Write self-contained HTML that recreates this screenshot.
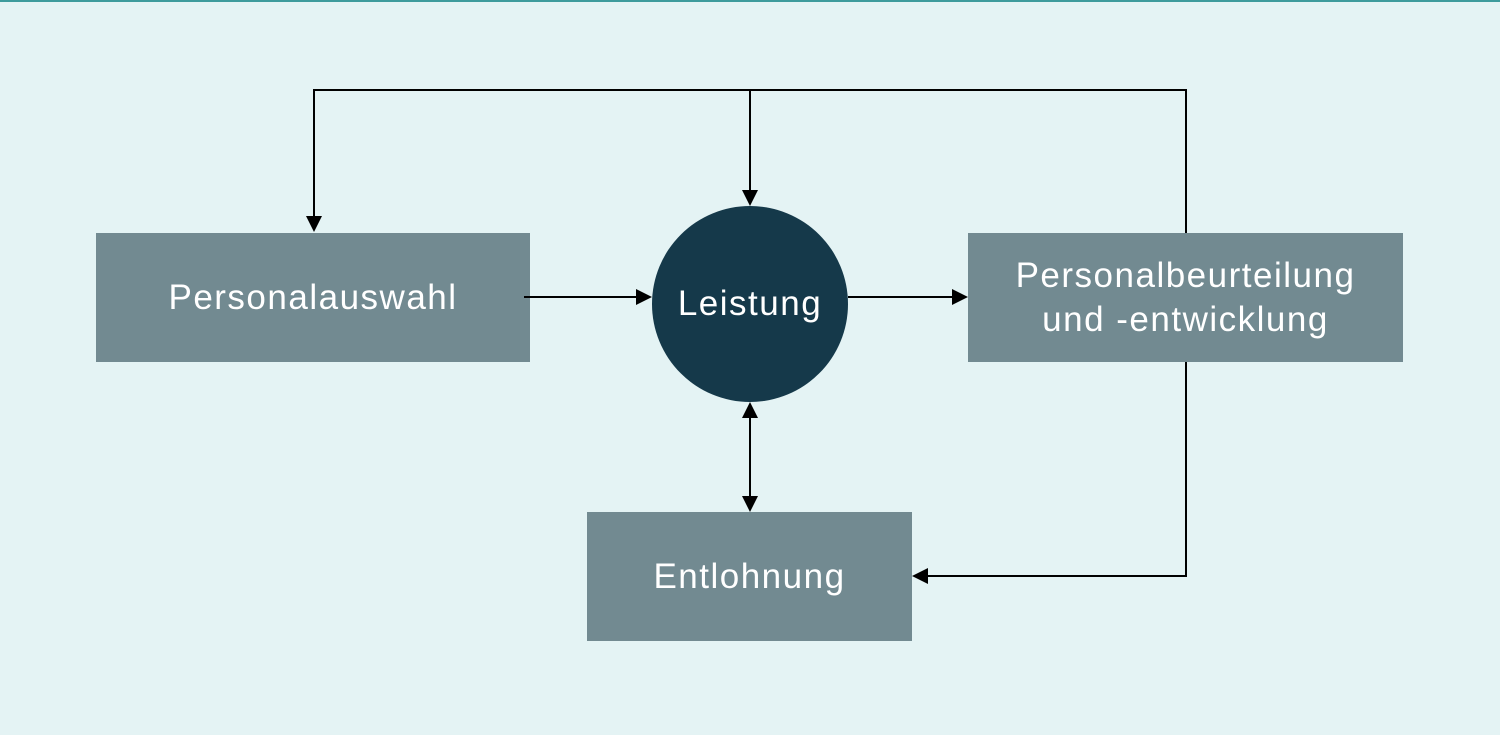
<!DOCTYPE html>
<html><head><meta charset="utf-8"><style>
html,body{margin:0;padding:0}
body{width:1500px;height:735px;background:#e4f3f4;position:relative;overflow:hidden;font-family:"Liberation Sans","DejaVu Sans",sans-serif}
.top{position:absolute;left:0;top:0;width:1500px;height:2px;background:#3d9b9c}
.b{position:absolute;background:#728a91;color:#fff;display:flex;align-items:center;justify-content:center;text-align:center;font-size:35px;line-height:44px;letter-spacing:1.5px}
.c{position:absolute;left:652px;top:206px;width:196px;height:196px;border-radius:50%;background:#15394a;color:#fff;display:flex;align-items:center;justify-content:center;font-size:35px;letter-spacing:1.5px}
svg{position:absolute;left:0;top:0}
</style></head><body>
<div class="top"></div>
<div class="b" style="left:96px;top:233px;width:434px;height:129px">Personalauswahl</div>
<div class="b" style="left:968px;top:233px;width:435px;height:129px">Personalbeurteilung<br>und -entwicklung</div>
<div class="b" style="left:587px;top:512px;width:325px;height:129px">Entlohnung</div>
<div class="c">Leistung</div>
<svg width="1500" height="735">
<g stroke="#000" stroke-width="2" fill="none">
<polyline points="314,216 314,90 1186,90 1186,233"/>
<line x1="750" y1="90" x2="750" y2="190"/>
<line x1="524" y1="297" x2="636" y2="297"/>
<line x1="848" y1="297" x2="952" y2="297"/>
<polyline points="1186,362 1186,576 928,576"/>
<line x1="750" y1="418" x2="750" y2="496"/>
</g>
<g fill="#000">
<polygon points="306,216 322,216 314,232"/>
<polygon points="742,190 758,190 750,206"/>
<polygon points="636,289 636,305 652,297"/>
<polygon points="952,289 952,305 968,297"/>
<polygon points="928,568 928,584 912,576"/>
<polygon points="742,418 758,418 750,402"/>
<polygon points="742,496 758,496 750,512"/>
</g>
</svg>
</body></html>
